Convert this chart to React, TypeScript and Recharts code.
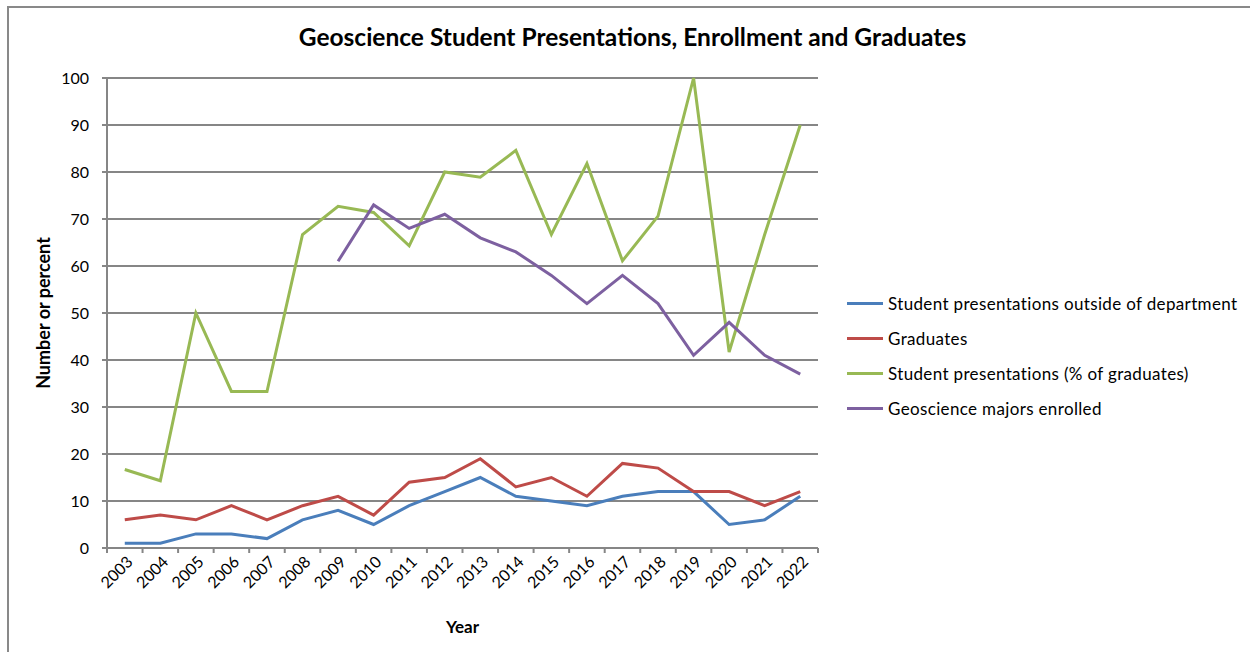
import React from 'react';
import { LineChart, Line, XAxis, YAxis, CartesianGrid } from 'recharts';

const years = ['2003','2004','2005','2006','2007','2008','2009','2010','2011','2012','2013','2014','2015','2016','2017','2018','2019','2020','2021','2022'];
const outsidePresentations = [1,1,3,3,2,6,8,5,9,12,15,11,10,9,11,12,12,5,6,11];
const graduates = [6,7,6,9,6,9,11,7,14,15,19,13,15,11,18,17,12,12,9,12];
const presentationsPct = [16.7,14.3,50,33.3,33.3,66.7,72.7,71.4,64.3,80,78.9,84.6,66.7,81.8,61.1,70.6,100,41.7,66.7,90];
const majorsEnrolled: (number | null)[] = [null,null,null,null,null,null,61,73,68,71,66,63,58,52,58,52,41,48,41,37];
const yTicks = [0,10,20,30,40,50,60,70,80,90,100];

const seriesDefs = [
  { key: 'outside', name: 'Student presentations outside of department', color: '#4A7EBB' },
  { key: 'grads', name: 'Graduates', color: '#BE4B48' },
  { key: 'pct', name: 'Student presentations (% of graduates)', color: '#98B954' },
  { key: 'majors', name: 'Geoscience majors enrolled', color: '#7D60A0' },
];

const data = years.map((y, i) => ({
  year: y,
  outside: outsidePresentations[i],
  grads: graduates[i],
  pct: presentationsPct[i],
  majors: majorsEnrolled[i],
}));

const FONT = 'Lato, "Open Sans", sans-serif';
const AXIS = '#868686';
const PLOT_LEFT = 107;
const PLOT_RIGHT = 818;
const PLOT_TOP = 78;
const PLOT_BOTTOM = 548;
const BAND = (PLOT_RIGHT - PLOT_LEFT) / years.length;

const XTick = (props: any) => {
  const { x, y, payload, index } = props;
  const half = BAND / 2;
  return (
    <g>
      <line x1={x - half} x2={x - half} y1={y} y2={y + 5} stroke={AXIS} strokeWidth={2} />
      {index === years.length - 1 && (
        <line x1={x + half} x2={x + half} y1={y} y2={y + 5} stroke={AXIS} strokeWidth={2} />
      )}
      <text
        x={x + 9}
        y={y + 15}
        textAnchor="end"
        transform={`rotate(-45, ${x + 9}, ${y + 15})`}
        fontFamily={FONT}
        fontSize={16}
        fill="#000"
      >
        {payload.value}
      </text>
    </g>
  );
};

export default function App() {
  return (
    <div style={{ position: 'absolute', left: 0, top: 0, width: 1250, height: 652, background: '#fff' }}>
      <div style={{ position: 'absolute', left: 7, top: 6, right: 0, bottom: 0, borderTop: '2px solid #898989', borderLeft: '2px solid #898989' }} />
      <div style={{ position: 'absolute', left: 0, top: 22, width: 1265, textAlign: 'center', fontFamily: FONT, fontWeight: 700, fontSize: 24.5, color: '#000' }}>
        Geoscience Student Presentations, Enrollment and Graduates
      </div>
      <div style={{ position: 'absolute', left: 0, top: 0 }}>
        <LineChart
          width={1250}
          height={652}
          data={data}
          margin={{ top: PLOT_TOP, right: 1250 - PLOT_RIGHT, bottom: 0, left: 0 }}
        >
          <CartesianGrid horizontal vertical={false} stroke={AXIS} strokeWidth={2} />
          <XAxis
            dataKey="year"
            scale="point"
            padding={{ left: BAND / 2, right: BAND / 2 }}
            interval={0}
            height={652 - PLOT_BOTTOM}
            tickLine={false}
            tickSize={0}
            tickMargin={0}
            axisLine={{ stroke: AXIS, strokeWidth: 2 }}
            tick={<XTick />}
            label={{ value: 'Year', position: 'insideBottom', offset: 19, fontFamily: FONT, fontWeight: 700, fontSize: 17, fill: '#000' }}
          />
          <YAxis
            domain={[0, 100]}
            ticks={yTicks}
            interval={0}
            width={PLOT_LEFT}
            tickSize={5}
            tickMargin={13}
            tickLine={{ stroke: AXIS, strokeWidth: 2 }}
            axisLine={{ stroke: AXIS, strokeWidth: 2 }}
            tick={{ fontFamily: FONT, fontSize: 16, fill: '#000' }}
            label={{ value: 'Number or percent', angle: -90, position: 'insideLeft', offset: 44, fontFamily: FONT, fontWeight: 700, fontSize: 18, fill: '#000', style: { textAnchor: 'middle' } }}
          />
          {seriesDefs.map((s) => (
            <Line
              key={s.key}
              type="linear"
              dataKey={s.key}
              name={s.name}
              stroke={s.color}
              strokeWidth={3}
              dot={false}
              activeDot={false}
              connectNulls={false}
              isAnimationActive={false}
            />
          ))}
        </LineChart>
      </div>
      <div style={{ position: 'absolute', left: 847, top: 286, fontFamily: FONT, fontSize: 17, color: '#000' }}>
        {seriesDefs.map((s) => (
          <div key={s.key} style={{ display: 'flex', alignItems: 'center', height: 35 }}>
            <div style={{ width: 36, height: 3, background: s.color, marginRight: 5 }} />
            <span style={{ letterSpacing: 0.35, whiteSpace: 'nowrap' }}>{s.name}</span>
          </div>
        ))}
      </div>
    </div>
  );
}
